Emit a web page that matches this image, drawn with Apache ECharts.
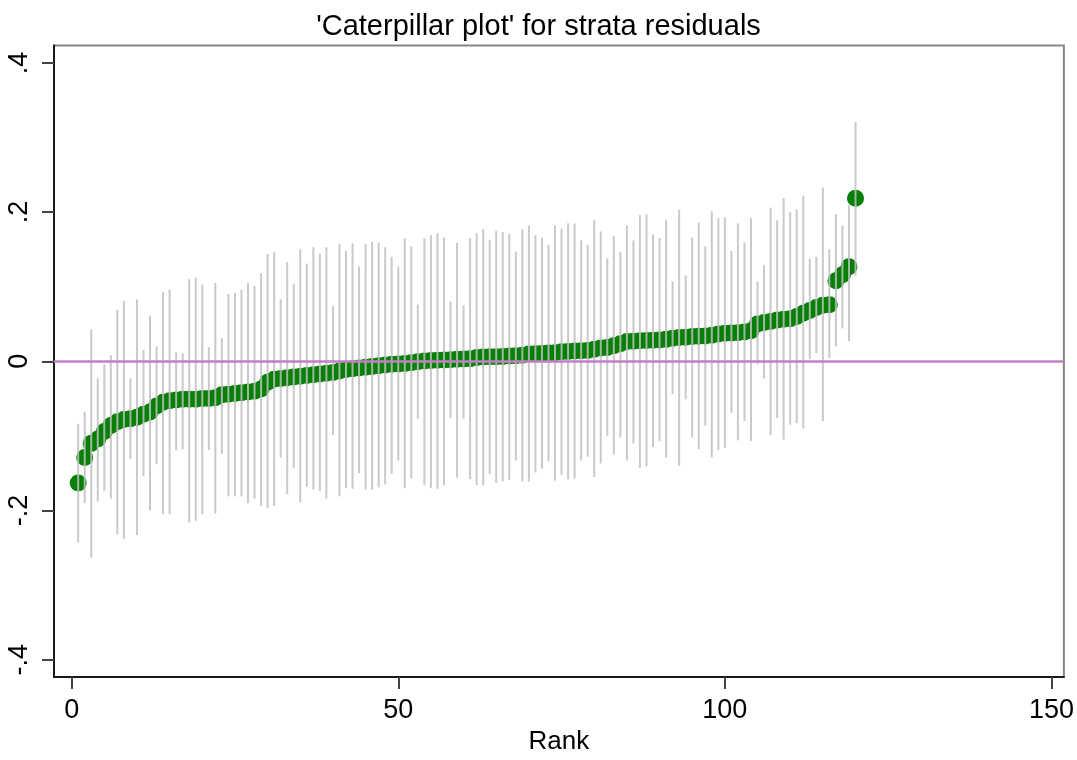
<!DOCTYPE html>
<html>
<head>
<meta charset="utf-8">
<title>Caterpillar plot</title>
<script src="https://cdn.jsdelivr.net/npm/echarts@6/dist/echarts.min.js"></script>
<style>
  html, body { margin: 0; padding: 0; background: #fff; }
  #chart { width: 1077px; height: 760px; }
</style>
</head>
<body>
<div id="chart"></div>
<script>
// Strata residuals, sorted by size (rank 1..120), with their 95% intervals.
const residual = [
  -0.163, -0.129, -0.110, -0.104, -0.094, -0.086, -0.081, -0.078, -0.077, -0.075,
  -0.071, -0.068, -0.060, -0.055, -0.053, -0.052, -0.051, -0.051, -0.051, -0.050,
  -0.050, -0.049, -0.045, -0.044, -0.043, -0.042, -0.041, -0.040, -0.037, -0.028,
  -0.024, -0.023, -0.022, -0.021, -0.020, -0.019, -0.018, -0.017, -0.016, -0.015,
  -0.013, -0.011, -0.010, -0.009, -0.008, -0.007, -0.006, -0.005, -0.004, -0.0035,
  -0.003, -0.002, -0.0005, 0.0005, 0.001, 0.0013, 0.0018, 0.0022, 0.0026, 0.003,
  0.0035, 0.005, 0.0057, 0.006, 0.0062, 0.0066, 0.007, 0.0075, 0.008, 0.0097,
  0.010, 0.0106, 0.011, 0.0115, 0.0128, 0.0132, 0.0137, 0.014, 0.0146, 0.0163,
  0.0177, 0.0185, 0.0208, 0.0234, 0.0265, 0.0269, 0.0274, 0.0278, 0.0283, 0.0287,
  0.0294, 0.0309, 0.0318, 0.0322, 0.0331, 0.0336, 0.034, 0.0349, 0.0366, 0.0375,
  0.038, 0.0384, 0.0393, 0.0411, 0.0499, 0.0521, 0.0534, 0.0552, 0.0565, 0.057,
  0.060, 0.0645, 0.068, 0.072, 0.075, 0.0758, 0.108, 0.116, 0.1267, 0.2185
];

const upper = [
  -0.084, -0.068, 0.043, -0.023, -0.004, 0.008, 0.069, 0.081, -0.023, 0.083,
  0.015, 0.061, 0.020, 0.093, 0.096, 0.012, 0.011, 0.110, 0.112, 0.103,
  0.019, 0.105, 0.031, 0.090, 0.092, 0.096, 0.105, 0.101, 0.118, 0.144,
  0.146, 0.083, 0.133, 0.104, 0.150, 0.131, 0.153, 0.144, 0.153, 0.074,
  0.157, 0.148, 0.158, 0.127, 0.157, 0.160, 0.159, 0.153, 0.140, 0.127,
  0.165, 0.154, 0.076, 0.165, 0.169, 0.172, 0.166, 0.080, 0.159, 0.075,
  0.165, 0.172, 0.177, 0.163, 0.175, 0.173, 0.171, 0.147, 0.177, 0.182,
  0.169, 0.166, 0.156, 0.182, 0.178, 0.185, 0.185, 0.162, 0.156, 0.189,
  0.174, 0.138, 0.168, 0.147, 0.182, 0.162, 0.196, 0.197, 0.170, 0.165,
  0.189, 0.107, 0.203, 0.115, 0.166, 0.186, 0.154, 0.201, 0.192, 0.193,
  0.148, 0.185, 0.159, 0.192, 0.107, 0.129, 0.206, 0.189, 0.219, 0.200,
  0.204, 0.222, 0.137, 0.140, 0.233, 0.150, 0.197, 0.182, 0.209, 0.321
];

const lower = [
  -0.243, -0.190, -0.263, -0.188, -0.174, -0.184, -0.232, -0.238, -0.131, -0.233,
  -0.154, -0.200, -0.138, -0.205, -0.205, -0.119, -0.118, -0.216, -0.214, -0.205,
  -0.119, -0.204, -0.124, -0.181, -0.181, -0.181, -0.190, -0.184, -0.194, -0.197,
  -0.194, -0.129, -0.178, -0.143, -0.189, -0.168, -0.172, -0.174, -0.184, -0.099,
  -0.181, -0.170, -0.171, -0.150, -0.172, -0.172, -0.169, -0.165, -0.151, -0.133,
  -0.170, -0.157, -0.077, -0.166, -0.170, -0.171, -0.166, -0.076, -0.156, -0.077,
  -0.158, -0.166, -0.166, -0.151, -0.163, -0.161, -0.159, -0.133, -0.161, -0.161,
  -0.149, -0.144, -0.134, -0.160, -0.152, -0.158, -0.157, -0.133, -0.128, -0.155,
  -0.137, -0.100, -0.125, -0.102, -0.133, -0.110, -0.143, -0.141, -0.115, -0.107,
  -0.129, -0.044, -0.140, -0.051, -0.102, -0.118, -0.086, -0.129, -0.119, -0.116,
  -0.069, -0.106, -0.080, -0.107, -0.004, -0.023, -0.099, -0.076, -0.105, -0.085,
  -0.083, -0.090, 0.003, 0.011, -0.080, 0.004, 0.020, 0.044, 0.027, 0.115
];

const xTicks = [0, 50, 100, 150];
const yTicks = [-0.4, -0.2, 0, 0.2, 0.4];

const FONT = "'Liberation Sans', Arial, sans-serif";

// rank = position in the sorted list
const points = residual.map((r, i) => [i + 1, r]);
const intervals = residual.map((r, i) => [i + 1, lower[i], upper[i]]);

function stataNum(v) {
  if (Math.abs(v) < 1e-9) return '0';
  return v.toFixed(1).replace('0.', '.');
}

const chart = echarts.init(document.getElementById('chart'), null, { renderer: 'canvas' });

chart.setOption({
  animation: false,
  backgroundColor: '#ffffff',
  title: {
    text: "'Caterpillar plot' for strata residuals",
    left: 'center',
    top: 7,
    textStyle: { fontFamily: FONT, fontSize: 29, fontWeight: 'normal', color: '#000' }
  },
  grid: {
    left: 54, right: 6.5, top: 45.5, bottom: 75,
    show: true, borderColor: '#858585', borderWidth: 2, backgroundColor: '#fff'
  },
  xAxis: {
    type: 'value',
    min: -2.7, max: 151.9,
    name: 'Rank',
    nameLocation: 'middle',
    nameGap: 50,
    nameTextStyle: { fontFamily: FONT, fontSize: 26, color: '#000' },
    axisLine: { show: true, onZero: false, lineStyle: { color: '#1a1a1a', width: 2 } },
    axisTick: { show: true, length: 12, customValues: xTicks, lineStyle: { color: '#444', width: 2 } },
    axisLabel: { customValues: xTicks, margin: 20, fontFamily: FONT, fontSize: 27, color: '#000', formatter: v => String(v) },
    splitLine: { show: false }
  },
  yAxis: {
    type: 'value',
    min: -0.4233, max: 0.4233,
    axisLine: { show: true, onZero: false, lineStyle: { color: '#1a1a1a', width: 2 } },
    axisTick: { show: true, length: 12, customValues: yTicks, lineStyle: { color: '#444', width: 2 } },
    axisLabel: { customValues: yTicks, rotate: 90, margin: 21, fontFamily: FONT, fontSize: 27, color: '#000', formatter: stataNum },
    splitLine: { show: false }
  },
  series: [
    {
      // reference line at zero
      type: 'line',
      data: [],
      z: 1,
      markLine: {
        silent: true,
        symbol: 'none',
        label: { show: false },
        lineStyle: { color: '#c27fc6', width: 2.5, type: 'solid' },
        data: [{ yAxis: 0 }]
      }
    },
    {
      type: 'scatter',
      data: points,
      symbol: 'circle',
      symbolSize: 17,
      itemStyle: { color: '#067f06', opacity: 1 },
      z: 2
    },
    {
      // interval bars, drawn over the points
      type: 'custom',
      data: intervals,
      encode: { x: 0, y: [1, 2] },
      z: 3,
      renderItem: function (params, api) {
        const x = api.value(0);
        const p1 = api.coord([x, api.value(1)]);
        const p2 = api.coord([x, api.value(2)]);
        return {
          type: 'line',
          shape: { x1: p1[0], y1: p1[1], x2: p2[0], y2: p2[1] },
          style: { stroke: 'rgba(192,192,192,0.85)', lineWidth: 2 }
        };
      }
    }
  ]
});
</script>
</body>
</html>
